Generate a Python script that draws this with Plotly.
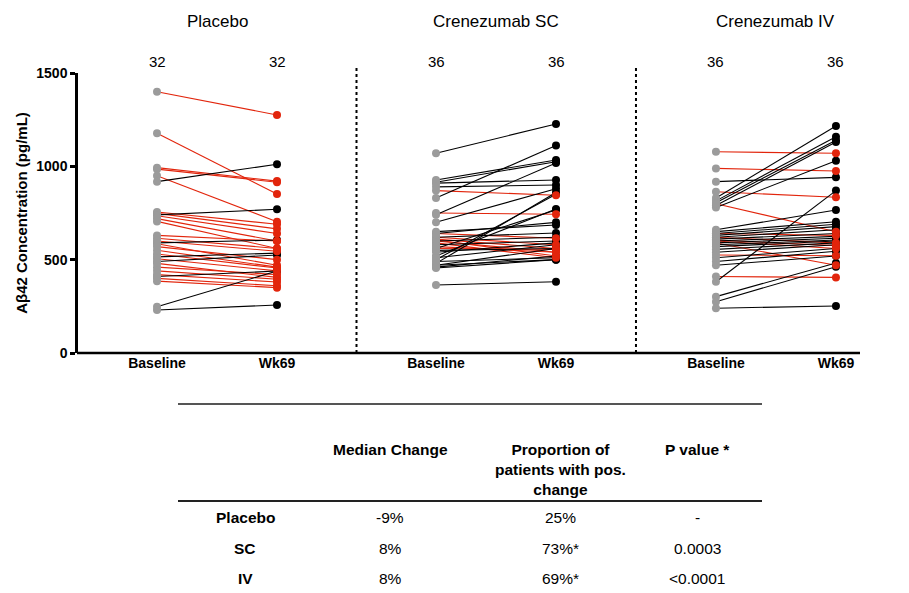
import plotly.graph_objects as go

# ---------------- data ----------------
groups = ["Placebo", "Crenezumab SC", "Crenezumab IV"]
group_n = [32, 36, 36]
timepoints = ["Baseline", "Wk69"]

placebo_base = [1400, 1177, 993, 985, 950, 918, 740, 590, 515, 490, 410, 248, 230,
                755, 748, 735, 720, 705, 630, 615, 600, 585, 570, 550, 530, 505, 480,
                460, 440, 420, 400, 385]
placebo_wk69 = [1275, 852, 921, 915, 703, 1011, 770, 605, 535, 525, 439, 439, 257,
                690, 665, 640, 600, 560, 600, 560, 545, 470, 500, 460, 455, 440, 405,
                420, 395, 380, 360, 350]

sc_base = [1070, 830, 927, 915, 740, 910, 890, 700, 480, 500, 520, 560, 650, 620, 600,
           580, 540, 470, 460, 470, 490, 510, 550, 364, 640, 455,
           870, 750, 610, 600, 620, 605, 590, 570, 640, 560]
sc_wk69 = [1227, 1111, 1034, 1025, 1018, 927, 900, 880, 860, 850, 771, 766, 686, 643, 620,
           600, 590, 560, 520, 500, 510, 580, 560, 382, 700, 500,
           845, 743, 560, 540, 580, 520, 510, 540, 615, 555]

iv_base = [830, 815, 805, 790, 780, 918, 382, 660, 650, 640, 630, 620, 610, 600, 590,
           580, 570, 555, 540, 510, 490, 470, 302, 275, 240,
           1078, 989, 864, 800, 620, 605, 640, 589, 410, 600, 525]
iv_wk69 = [1216, 1159, 1140, 1130, 1030, 941, 870, 766, 703, 690, 677, 660, 640, 625, 615,
           605, 600, 590, 580, 560, 545, 520, 482, 462, 252,
           1070, 975, 834, 650, 590, 575, 630, 470, 405, 560, 521]

table_cols = ["Median Change", "Proportion of<br>patients with pos.<br>change", "P value *"]
table_rows = ["Placebo", "SC", "IV"]
median_change = ["-9%", "8%", "8%"]
prop_pos = ["25%", "73%*", "69%*"]
p_values = ["-", "0.0003", "<0.0001"]

series = [(placebo_base, placebo_wk69), (sc_base, sc_wk69), (iv_base, iv_wk69)]
offsets = [0.0, 2.325, 4.658]

RED = "#e2250c"
GRAY = "#9b9b9b"
BLACK = "#000000"
FONT = "Liberation Sans, Arial, sans-serif"

# pixel geometry of the plot area
L, R, T, B = 78, 860, 73, 353
W, H = 909, 593


def px(x):
    return (x - L) / (R - L)


def py(y):
    return (B - y) / (B - T)


fig = go.Figure()

for (base, wk), off in zip(series, offsets):
    x0, x1 = off, off + 1
    for colr, cond in [(RED, lambda a, b: b < a), (BLACK, lambda a, b: b > a), (GRAY, lambda a, b: b == a)]:
        xs, ys = [], []
        for a, b in zip(base, wk):
            if cond(a, b):
                xs += [x0, x1, None]
                ys += [a, b, None]
        if xs:
            fig.add_trace(go.Scatter(x=xs, y=ys, mode="lines",
                                     line=dict(color=colr, width=1.1),
                                     hoverinfo="skip", showlegend=False))
for (base, wk), off in zip(series, offsets):
    x1 = off + 1
    colors = [RED if b < a else (BLACK if b > a else GRAY) for a, b in zip(base, wk)]
    fig.add_trace(go.Scatter(x=[off] * len(base), y=base, mode="markers",
                             marker=dict(color=GRAY, size=8), showlegend=False))
    fig.add_trace(go.Scatter(x=[x1] * len(wk), y=wk, mode="markers",
                             marker=dict(color=colors, size=8), showlegend=False))

tickvals, ticktext = [], []
for off in offsets:
    tickvals += [off, off + 1]
    ticktext += ["<b>%s</b>" % t for t in timepoints]

xmin = offsets[0] - (157 - L) / 120
xmax = offsets[0] + (R - 157) / 120

fig.update_layout(
    width=W, height=H,
    margin=dict(l=L, r=W - R, t=T, b=H - B),
    plot_bgcolor="white", paper_bgcolor="white",
    font=dict(family=FONT, color="black"),
    xaxis=dict(range=[xmin, xmax], tickvals=tickvals, ticktext=ticktext,
               showgrid=False, zeroline=False, showline=False,
               ticks="", tickfont=dict(size=14, family=FONT)),
    yaxis=dict(range=[0, 1500], tickvals=[0, 500, 1000, 1500],
               ticktext=["<b>0</b>", "<b>500</b>", "<b>1000</b>", "<b>1500</b>"],
               showgrid=False, zeroline=False, showline=True, linecolor="black",
               linewidth=2.5, ticks="outside", ticklen=5, tickwidth=2.5,
               tickcolor="black", tickfont=dict(size=14, family=FONT),
               title=dict(text="<b>Aβ42 Concentration (pg/mL)</b>",
                          font=dict(size=15, family=FONT), standoff=6)),
)

shapes = []
# x-axis baseline
shapes.append(dict(type="line", xref="paper", yref="paper", x0=px(L - 1), x1=px(R),
                   y0=0, y1=0, line=dict(color="black", width=2.5)))
# dotted separators
for sx in [(offsets[0] + 1 + offsets[1]) / 2, (offsets[1] + 1 + offsets[2]) / 2]:
    shapes.append(dict(type="line", xref="x", yref="paper", x0=sx, x1=sx,
                       y0=0, y1=py(68), line=dict(color="black", width=2, dash="dot")))
# table lines
shapes.append(dict(type="line", xref="paper", yref="paper", x0=px(178), x1=px(762),
                   y0=py(404), y1=py(404), line=dict(color="#555555", width=2)))
shapes.append(dict(type="line", xref="paper", yref="paper", x0=px(178), x1=px(762),
                   y0=py(501), y1=py(501), line=dict(color="#222222", width=2)))
fig.update_layout(shapes=shapes)

ann = []
for g, n, off in zip(groups, group_n, offsets):
    ann.append(dict(x=off + 0.5, y=py(22), xref="x", yref="paper", text=g,
                    showarrow=False, font=dict(size=17, family=FONT),
                    xanchor="center", yanchor="middle"))
    for dx in [0, 1]:
        ann.append(dict(x=off + dx, y=py(62), xref="x", yref="paper", text=str(n),
                        showarrow=False, font=dict(size=15, family=FONT),
                        xanchor="center", yanchor="middle"))

col_x = [390, 560, 697]
for cx, txt in zip(col_x, table_cols):
    ann.append(dict(x=px(cx), y=py(439), xref="paper", yref="paper",
                    text="<b>%s</b>" % txt, showarrow=False,
                    font=dict(size=15.5, family=FONT), xanchor="center",
                    yanchor="top", align="center"))
row_y = [517, 548, 578]
for i, (rn, ry) in enumerate(zip(table_rows, row_y)):
    ann.append(dict(x=px(245), y=py(ry), xref="paper", yref="paper",
                    text="<b>%s</b>" % rn, showarrow=False,
                    font=dict(size=15.5, family=FONT), xanchor="center", yanchor="middle"))
    for cx, vals in zip(col_x, [median_change, prop_pos, p_values]):
        ann.append(dict(x=px(cx), y=py(ry), xref="paper", yref="paper",
                        text=vals[i], showarrow=False,
                        font=dict(size=15.5, family=FONT), xanchor="center", yanchor="middle"))
fig.update_layout(annotations=ann)

fig.write_html("out.html")
